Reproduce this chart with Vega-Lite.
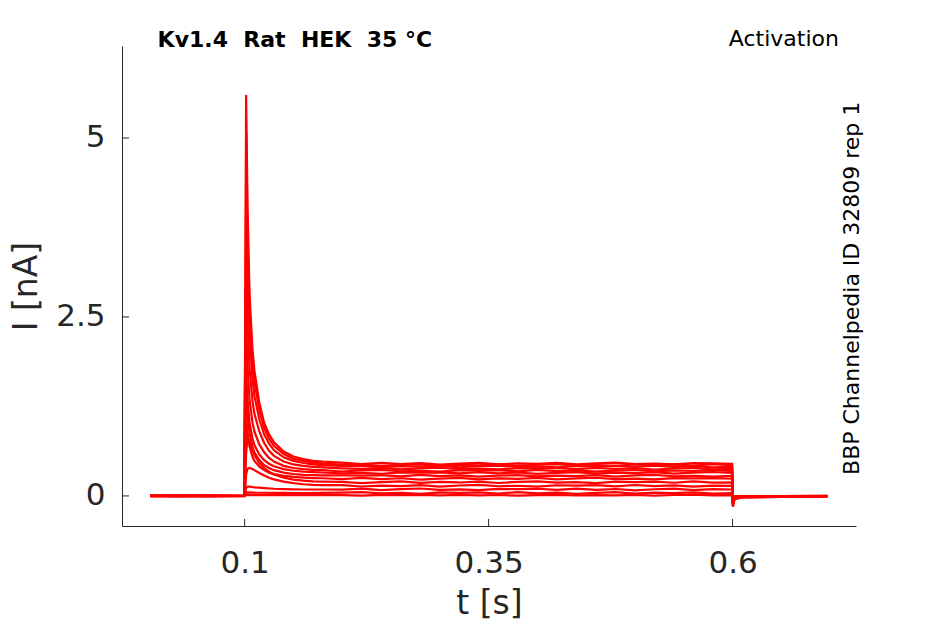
{
  "$schema": "https://vega.github.io/schema/vega-lite/v6.json",
  "width": 734,
  "height": 480,
  "autosize": {"type": "none"},
  "padding": {"left": 122, "top": 46, "right": 89, "bottom": 98},
  "background": "white",
  "config": {"view": {"stroke": null}, "font": "DejaVu Sans"},
  "datasets": {
    "traces": [
      {"s":1,"t":0.003,"i":0.003},{"s":1,"t":0.03,"i":-0.004},{"s":1,"t":0.06,"i":0.002},{"s":1,"t":0.0995,"i":0},
      {"s":1,"t":0.1008,"i":2.8},{"s":1,"t":0.1015,"i":5.6},{"s":1,"t":0.103,"i":4.0},{"s":1,"t":0.105,"i":2.82},{"s":1,"t":0.108,"i":2.05},{"s":1,"t":0.11,"i":1.75},{"s":1,"t":0.115,"i":1.3},{"s":1,"t":0.12,"i":1.02},{"s":1,"t":0.125,"i":0.86},{"s":1,"t":0.13,"i":0.75},{"s":1,"t":0.14,"i":0.62},{"s":1,"t":0.15,"i":0.55},{"s":1,"t":0.16,"i":0.515},{"s":1,"t":0.17,"i":0.49},{"s":1,"t":0.18,"i":0.478},
      {"s":1,"t":0.2,"i":0.466},{"s":1,"t":0.22,"i":0.444},{"s":1,"t":0.24,"i":0.463},{"s":1,"t":0.26,"i":0.446},{"s":1,"t":0.28,"i":0.457},{"s":1,"t":0.3,"i":0.439},{"s":1,"t":0.32,"i":0.453},{"s":1,"t":0.34,"i":0.462},{"s":1,"t":0.36,"i":0.442},{"s":1,"t":0.38,"i":0.455},{"s":1,"t":0.4,"i":0.448},{"s":1,"t":0.42,"i":0.461},{"s":1,"t":0.44,"i":0.441},{"s":1,"t":0.46,"i":0.456},{"s":1,"t":0.48,"i":0.464},{"s":1,"t":0.5,"i":0.445},{"s":1,"t":0.52,"i":0.452},{"s":1,"t":0.54,"i":0.44},{"s":1,"t":0.56,"i":0.459},{"s":1,"t":0.58,"i":0.454},{"s":1,"t":0.5995,"i":0.45},
      {"s":1,"t":0.6003,"i":-0.15},{"s":1,"t":0.602,"i":-0.04},{"s":1,"t":0.61,"i":-0.02},{"s":1,"t":0.65,"i":-0.012},{"s":1,"t":0.697,"i":-0.008},

      {"s":2,"t":0.003,"i":-0.002},{"s":2,"t":0.03,"i":0.004},{"s":2,"t":0.06,"i":-0.003},{"s":2,"t":0.0995,"i":0.001},
      {"s":2,"t":0.1008,"i":2.55},{"s":2,"t":0.1015,"i":5.1},{"s":2,"t":0.103,"i":3.65},{"s":2,"t":0.105,"i":2.6},{"s":2,"t":0.108,"i":1.88},{"s":2,"t":0.11,"i":1.6},{"s":2,"t":0.115,"i":1.2},{"s":2,"t":0.12,"i":0.95},{"s":2,"t":0.125,"i":0.8},{"s":2,"t":0.13,"i":0.7},{"s":2,"t":0.14,"i":0.585},{"s":2,"t":0.15,"i":0.52},{"s":2,"t":0.16,"i":0.49},{"s":2,"t":0.17,"i":0.465},{"s":2,"t":0.18,"i":0.452},
      {"s":2,"t":0.2,"i":0.436},{"s":2,"t":0.22,"i":0.437},{"s":2,"t":0.24,"i":0.419},{"s":2,"t":0.26,"i":0.433},{"s":2,"t":0.28,"i":0.442},{"s":2,"t":0.3,"i":0.422},{"s":2,"t":0.32,"i":0.435},{"s":2,"t":0.34,"i":0.428},{"s":2,"t":0.36,"i":0.441},{"s":2,"t":0.38,"i":0.421},{"s":2,"t":0.4,"i":0.436},{"s":2,"t":0.42,"i":0.444},{"s":2,"t":0.44,"i":0.425},{"s":2,"t":0.46,"i":0.432},{"s":2,"t":0.48,"i":0.42},{"s":2,"t":0.5,"i":0.439},{"s":2,"t":0.52,"i":0.434},{"s":2,"t":0.54,"i":0.44},{"s":2,"t":0.56,"i":0.424},{"s":2,"t":0.58,"i":0.443},{"s":2,"t":0.5995,"i":0.43},
      {"s":2,"t":0.6003,"i":-0.14},{"s":2,"t":0.602,"i":-0.04},{"s":2,"t":0.61,"i":-0.02},{"s":2,"t":0.65,"i":-0.012},{"s":2,"t":0.697,"i":-0.006},

      {"s":3,"t":0.003,"i":0.001},{"s":3,"t":0.03,"i":-0.003},{"s":3,"t":0.06,"i":0.004},{"s":3,"t":0.0995,"i":-0.001},
      {"s":3,"t":0.1008,"i":2.15},{"s":3,"t":0.1015,"i":4.3},{"s":3,"t":0.103,"i":3.1},{"s":3,"t":0.105,"i":2.25},{"s":3,"t":0.108,"i":1.64},{"s":3,"t":0.11,"i":1.4},{"s":3,"t":0.115,"i":1.07},{"s":3,"t":0.12,"i":0.86},{"s":3,"t":0.125,"i":0.73},{"s":3,"t":0.13,"i":0.64},{"s":3,"t":0.14,"i":0.54},{"s":3,"t":0.15,"i":0.49},{"s":3,"t":0.16,"i":0.46},{"s":3,"t":0.17,"i":0.44},{"s":3,"t":0.18,"i":0.43},
      {"s":3,"t":0.2,"i":0.418},{"s":3,"t":0.22,"i":0.422},{"s":3,"t":0.24,"i":0.402},{"s":3,"t":0.26,"i":0.415},{"s":3,"t":0.28,"i":0.408},{"s":3,"t":0.3,"i":0.421},{"s":3,"t":0.32,"i":0.401},{"s":3,"t":0.34,"i":0.416},{"s":3,"t":0.36,"i":0.424},{"s":3,"t":0.38,"i":0.405},{"s":3,"t":0.4,"i":0.412},{"s":3,"t":0.42,"i":0.4},{"s":3,"t":0.44,"i":0.419},{"s":3,"t":0.46,"i":0.414},{"s":3,"t":0.48,"i":0.42},{"s":3,"t":0.5,"i":0.404},{"s":3,"t":0.52,"i":0.423},{"s":3,"t":0.54,"i":0.406},{"s":3,"t":0.56,"i":0.417},{"s":3,"t":0.58,"i":0.399},{"s":3,"t":0.5995,"i":0.41},
      {"s":3,"t":0.6003,"i":-0.13},{"s":3,"t":0.602,"i":-0.035},{"s":3,"t":0.61,"i":-0.018},{"s":3,"t":0.65,"i":-0.01},{"s":3,"t":0.697,"i":-0.006},

      {"s":4,"t":0.003,"i":-0.003},{"s":4,"t":0.03,"i":0.002},{"s":4,"t":0.06,"i":-0.002},{"s":4,"t":0.0995,"i":0.002},
      {"s":4,"t":0.1008,"i":1.65},{"s":4,"t":0.1015,"i":3.3},{"s":4,"t":0.103,"i":2.42},{"s":4,"t":0.105,"i":1.78},{"s":4,"t":0.108,"i":1.33},{"s":4,"t":0.11,"i":1.15},{"s":4,"t":0.115,"i":0.9},{"s":4,"t":0.12,"i":0.74},{"s":4,"t":0.125,"i":0.63},{"s":4,"t":0.13,"i":0.56},{"s":4,"t":0.14,"i":0.48},{"s":4,"t":0.15,"i":0.44},{"s":4,"t":0.16,"i":0.42},{"s":4,"t":0.17,"i":0.405},{"s":4,"t":0.18,"i":0.398},
      {"s":4,"t":0.2,"i":0.385},{"s":4,"t":0.22,"i":0.378},{"s":4,"t":0.24,"i":0.391},{"s":4,"t":0.26,"i":0.371},{"s":4,"t":0.28,"i":0.386},{"s":4,"t":0.3,"i":0.394},{"s":4,"t":0.32,"i":0.375},{"s":4,"t":0.34,"i":0.382},{"s":4,"t":0.36,"i":0.37},{"s":4,"t":0.38,"i":0.389},{"s":4,"t":0.4,"i":0.384},{"s":4,"t":0.42,"i":0.39},{"s":4,"t":0.44,"i":0.374},{"s":4,"t":0.46,"i":0.393},{"s":4,"t":0.48,"i":0.376},{"s":4,"t":0.5,"i":0.387},{"s":4,"t":0.52,"i":0.369},{"s":4,"t":0.54,"i":0.383},{"s":4,"t":0.56,"i":0.392},{"s":4,"t":0.58,"i":0.372},{"s":4,"t":0.5995,"i":0.38},
      {"s":4,"t":0.6003,"i":-0.12},{"s":4,"t":0.602,"i":-0.03},{"s":4,"t":0.61,"i":-0.015},{"s":4,"t":0.65,"i":-0.01},{"s":4,"t":0.697,"i":-0.005},

      {"s":5,"t":0.003,"i":0.002},{"s":5,"t":0.03,"i":0.003},{"s":5,"t":0.06,"i":-0.004},{"s":5,"t":0.0995,"i":0},
      {"s":5,"t":0.1008,"i":1.2},{"s":5,"t":0.1015,"i":2.4},{"s":5,"t":0.103,"i":1.8},{"s":5,"t":0.105,"i":1.35},{"s":5,"t":0.108,"i":1.03},{"s":5,"t":0.11,"i":0.9},{"s":5,"t":0.115,"i":0.72},{"s":5,"t":0.12,"i":0.61},{"s":5,"t":0.125,"i":0.53},{"s":5,"t":0.13,"i":0.48},{"s":5,"t":0.14,"i":0.42},{"s":5,"t":0.15,"i":0.39},{"s":5,"t":0.16,"i":0.375},{"s":5,"t":0.17,"i":0.365},{"s":5,"t":0.18,"i":0.36},
      {"s":5,"t":0.2,"i":0.341},{"s":5,"t":0.22,"i":0.356},{"s":5,"t":0.24,"i":0.364},{"s":5,"t":0.26,"i":0.345},{"s":5,"t":0.28,"i":0.352},{"s":5,"t":0.3,"i":0.34},{"s":5,"t":0.32,"i":0.359},{"s":5,"t":0.34,"i":0.354},{"s":5,"t":0.36,"i":0.36},{"s":5,"t":0.38,"i":0.344},{"s":5,"t":0.4,"i":0.363},{"s":5,"t":0.42,"i":0.346},{"s":5,"t":0.44,"i":0.357},{"s":5,"t":0.46,"i":0.339},{"s":5,"t":0.48,"i":0.353},{"s":5,"t":0.5,"i":0.362},{"s":5,"t":0.52,"i":0.342},{"s":5,"t":0.54,"i":0.355},{"s":5,"t":0.56,"i":0.348},{"s":5,"t":0.58,"i":0.361},{"s":5,"t":0.5995,"i":0.35},
      {"s":5,"t":0.6003,"i":-0.1},{"s":5,"t":0.602,"i":-0.03},{"s":5,"t":0.61,"i":-0.015},{"s":5,"t":0.65,"i":-0.01},{"s":5,"t":0.697,"i":-0.004},

      {"s":6,"t":0.003,"i":-0.001},{"s":6,"t":0.03,"i":0.002},{"s":6,"t":0.06,"i":0.003},{"s":6,"t":0.0995,"i":-0.002},
      {"s":6,"t":0.1008,"i":0.9},{"s":6,"t":0.1015,"i":1.76},{"s":6,"t":0.103,"i":1.34},{"s":6,"t":0.105,"i":1.03},{"s":6,"t":0.108,"i":0.8},{"s":6,"t":0.11,"i":0.71},{"s":6,"t":0.115,"i":0.58},{"s":6,"t":0.12,"i":0.5},{"s":6,"t":0.125,"i":0.45},{"s":6,"t":0.13,"i":0.415},{"s":6,"t":0.14,"i":0.375},{"s":6,"t":0.15,"i":0.352},{"s":6,"t":0.16,"i":0.34},{"s":6,"t":0.17,"i":0.332},{"s":6,"t":0.18,"i":0.327},
      {"s":6,"t":0.2,"i":0.315},{"s":6,"t":0.22,"i":0.322},{"s":6,"t":0.24,"i":0.31},{"s":6,"t":0.26,"i":0.329},{"s":6,"t":0.28,"i":0.324},{"s":6,"t":0.3,"i":0.33},{"s":6,"t":0.32,"i":0.314},{"s":6,"t":0.34,"i":0.333},{"s":6,"t":0.36,"i":0.316},{"s":6,"t":0.38,"i":0.327},{"s":6,"t":0.4,"i":0.309},{"s":6,"t":0.42,"i":0.323},{"s":6,"t":0.44,"i":0.332},{"s":6,"t":0.46,"i":0.312},{"s":6,"t":0.48,"i":0.325},{"s":6,"t":0.5,"i":0.318},{"s":6,"t":0.52,"i":0.331},{"s":6,"t":0.54,"i":0.311},{"s":6,"t":0.56,"i":0.326},{"s":6,"t":0.58,"i":0.334},{"s":6,"t":0.5995,"i":0.32},
      {"s":6,"t":0.6003,"i":-0.09},{"s":6,"t":0.602,"i":-0.025},{"s":6,"t":0.61,"i":-0.012},{"s":6,"t":0.65,"i":-0.008},{"s":6,"t":0.697,"i":-0.004},

      {"s":7,"t":0.003,"i":0.004},{"s":7,"t":0.03,"i":-0.002},{"s":7,"t":0.06,"i":0.001},{"s":7,"t":0.0995,"i":0.001},
      {"s":7,"t":0.1008,"i":0.75},{"s":7,"t":0.1015,"i":1.48},{"s":7,"t":0.103,"i":1.14},{"s":7,"t":0.105,"i":0.88},{"s":7,"t":0.108,"i":0.69},{"s":7,"t":0.11,"i":0.61},{"s":7,"t":0.115,"i":0.5},{"s":7,"t":0.12,"i":0.43},{"s":7,"t":0.125,"i":0.39},{"s":7,"t":0.13,"i":0.36},{"s":7,"t":0.14,"i":0.325},{"s":7,"t":0.15,"i":0.306},{"s":7,"t":0.16,"i":0.295},{"s":7,"t":0.17,"i":0.29},{"s":7,"t":0.18,"i":0.286},
      {"s":7,"t":0.2,"i":0.289},{"s":7,"t":0.22,"i":0.284},{"s":7,"t":0.24,"i":0.29},{"s":7,"t":0.26,"i":0.274},{"s":7,"t":0.28,"i":0.293},{"s":7,"t":0.3,"i":0.276},{"s":7,"t":0.32,"i":0.287},{"s":7,"t":0.34,"i":0.269},{"s":7,"t":0.36,"i":0.283},{"s":7,"t":0.38,"i":0.292},{"s":7,"t":0.4,"i":0.272},{"s":7,"t":0.42,"i":0.285},{"s":7,"t":0.44,"i":0.278},{"s":7,"t":0.46,"i":0.291},{"s":7,"t":0.48,"i":0.271},{"s":7,"t":0.5,"i":0.286},{"s":7,"t":0.52,"i":0.294},{"s":7,"t":0.54,"i":0.275},{"s":7,"t":0.56,"i":0.282},{"s":7,"t":0.58,"i":0.27},{"s":7,"t":0.5995,"i":0.28},
      {"s":7,"t":0.6003,"i":-0.08},{"s":7,"t":0.602,"i":-0.025},{"s":7,"t":0.61,"i":-0.012},{"s":7,"t":0.65,"i":-0.008},{"s":7,"t":0.697,"i":-0.003},

      {"s":8,"t":0.003,"i":-0.002},{"s":8,"t":0.03,"i":0.001},{"s":8,"t":0.06,"i":-0.003},{"s":8,"t":0.0995,"i":0.002},
      {"s":8,"t":0.1008,"i":0.57},{"s":8,"t":0.1015,"i":1.13},{"s":8,"t":0.103,"i":0.88},{"s":8,"t":0.105,"i":0.69},{"s":8,"t":0.108,"i":0.55},{"s":8,"t":0.11,"i":0.49},{"s":8,"t":0.115,"i":0.41},{"s":8,"t":0.12,"i":0.36},{"s":8,"t":0.125,"i":0.325},{"s":8,"t":0.13,"i":0.305},{"s":8,"t":0.14,"i":0.28},{"s":8,"t":0.15,"i":0.265},{"s":8,"t":0.16,"i":0.256},{"s":8,"t":0.17,"i":0.25},{"s":8,"t":0.18,"i":0.247},
      {"s":8,"t":0.2,"i":0.234},{"s":8,"t":0.22,"i":0.253},{"s":8,"t":0.24,"i":0.236},{"s":8,"t":0.26,"i":0.247},{"s":8,"t":0.28,"i":0.229},{"s":8,"t":0.3,"i":0.243},{"s":8,"t":0.32,"i":0.252},{"s":8,"t":0.34,"i":0.232},{"s":8,"t":0.36,"i":0.245},{"s":8,"t":0.38,"i":0.238},{"s":8,"t":0.4,"i":0.251},{"s":8,"t":0.42,"i":0.231},{"s":8,"t":0.44,"i":0.246},{"s":8,"t":0.46,"i":0.254},{"s":8,"t":0.48,"i":0.235},{"s":8,"t":0.5,"i":0.242},{"s":8,"t":0.52,"i":0.23},{"s":8,"t":0.54,"i":0.249},{"s":8,"t":0.56,"i":0.244},{"s":8,"t":0.58,"i":0.25},{"s":8,"t":0.5995,"i":0.24},
      {"s":8,"t":0.6003,"i":-0.07},{"s":8,"t":0.602,"i":-0.02},{"s":8,"t":0.61,"i":-0.01},{"s":8,"t":0.65,"i":-0.006},{"s":8,"t":0.697,"i":-0.003},

      {"s":9,"t":0.003,"i":0.001},{"s":9,"t":0.03,"i":0.003},{"s":9,"t":0.06,"i":-0.001},{"s":9,"t":0.0995,"i":-0.002},
      {"s":9,"t":0.1008,"i":0.3},{"s":9,"t":0.1015,"i":0.6},{"s":9,"t":0.103,"i":0.82},{"s":9,"t":0.105,"i":0.76},{"s":9,"t":0.108,"i":0.64},{"s":9,"t":0.11,"i":0.57},{"s":9,"t":0.115,"i":0.46},{"s":9,"t":0.12,"i":0.39},{"s":9,"t":0.125,"i":0.34},{"s":9,"t":0.13,"i":0.3},{"s":9,"t":0.14,"i":0.255},{"s":9,"t":0.15,"i":0.228},{"s":9,"t":0.16,"i":0.213},{"s":9,"t":0.17,"i":0.204},{"s":9,"t":0.18,"i":0.2},
      {"s":9,"t":0.2,"i":0.197},{"s":9,"t":0.22,"i":0.179},{"s":9,"t":0.24,"i":0.193},{"s":9,"t":0.26,"i":0.202},{"s":9,"t":0.28,"i":0.182},{"s":9,"t":0.3,"i":0.195},{"s":9,"t":0.32,"i":0.188},{"s":9,"t":0.34,"i":0.201},{"s":9,"t":0.36,"i":0.181},{"s":9,"t":0.38,"i":0.196},{"s":9,"t":0.4,"i":0.204},{"s":9,"t":0.42,"i":0.185},{"s":9,"t":0.44,"i":0.192},{"s":9,"t":0.46,"i":0.18},{"s":9,"t":0.48,"i":0.199},{"s":9,"t":0.5,"i":0.194},{"s":9,"t":0.52,"i":0.2},{"s":9,"t":0.54,"i":0.184},{"s":9,"t":0.56,"i":0.203},{"s":9,"t":0.58,"i":0.186},{"s":9,"t":0.5995,"i":0.19},
      {"s":9,"t":0.6003,"i":-0.05},{"s":9,"t":0.602,"i":-0.015},{"s":9,"t":0.61,"i":-0.008},{"s":9,"t":0.65,"i":-0.005},{"s":9,"t":0.697,"i":-0.002},

      {"s":10,"t":0.003,"i":-0.003},{"s":10,"t":0.03,"i":0.002},{"s":10,"t":0.06,"i":0.004},{"s":10,"t":0.0995,"i":0},
      {"s":10,"t":0.1008,"i":0.15},{"s":10,"t":0.1015,"i":0.3},{"s":10,"t":0.103,"i":0.38},{"s":10,"t":0.105,"i":0.39},{"s":10,"t":0.108,"i":0.375},{"s":10,"t":0.11,"i":0.36},{"s":10,"t":0.115,"i":0.32},{"s":10,"t":0.12,"i":0.285},{"s":10,"t":0.125,"i":0.255},{"s":10,"t":0.13,"i":0.232},{"s":10,"t":0.14,"i":0.2},{"s":10,"t":0.15,"i":0.178},{"s":10,"t":0.16,"i":0.163},{"s":10,"t":0.17,"i":0.154},{"s":10,"t":0.18,"i":0.15},
      {"s":10,"t":0.2,"i":0.152},{"s":10,"t":0.22,"i":0.132},{"s":10,"t":0.24,"i":0.145},{"s":10,"t":0.26,"i":0.138},{"s":10,"t":0.28,"i":0.151},{"s":10,"t":0.3,"i":0.131},{"s":10,"t":0.32,"i":0.146},{"s":10,"t":0.34,"i":0.154},{"s":10,"t":0.36,"i":0.135},{"s":10,"t":0.38,"i":0.142},{"s":10,"t":0.4,"i":0.13},{"s":10,"t":0.42,"i":0.149},{"s":10,"t":0.44,"i":0.144},{"s":10,"t":0.46,"i":0.15},{"s":10,"t":0.48,"i":0.134},{"s":10,"t":0.5,"i":0.153},{"s":10,"t":0.52,"i":0.136},{"s":10,"t":0.54,"i":0.147},{"s":10,"t":0.56,"i":0.129},{"s":10,"t":0.58,"i":0.143},{"s":10,"t":0.5995,"i":0.14},
      {"s":10,"t":0.6003,"i":-0.04},{"s":10,"t":0.602,"i":-0.012},{"s":10,"t":0.61,"i":-0.006},{"s":10,"t":0.65,"i":-0.004},{"s":10,"t":0.697,"i":-0.002},

      {"s":11,"t":0.003,"i":0.002},{"s":11,"t":0.03,"i":-0.003},{"s":11,"t":0.06,"i":0.001},{"s":11,"t":0.0995,"i":0.001},
      {"s":11,"t":0.1008,"i":0.06},{"s":11,"t":0.1015,"i":0.11},{"s":11,"t":0.103,"i":0.13},{"s":11,"t":0.105,"i":0.13},{"s":11,"t":0.108,"i":0.125},{"s":11,"t":0.11,"i":0.12},{"s":11,"t":0.115,"i":0.115},{"s":11,"t":0.12,"i":0.11},{"s":11,"t":0.13,"i":0.1},{"s":11,"t":0.14,"i":0.095},{"s":11,"t":0.16,"i":0.09},{"s":11,"t":0.18,"i":0.09},
      {"s":11,"t":0.2,"i":0.088},{"s":11,"t":0.22,"i":0.101},{"s":11,"t":0.24,"i":0.081},{"s":11,"t":0.26,"i":0.096},{"s":11,"t":0.28,"i":0.104},{"s":11,"t":0.3,"i":0.085},{"s":11,"t":0.32,"i":0.092},{"s":11,"t":0.34,"i":0.08},{"s":11,"t":0.36,"i":0.099},{"s":11,"t":0.38,"i":0.094},{"s":11,"t":0.4,"i":0.1},{"s":11,"t":0.42,"i":0.084},{"s":11,"t":0.44,"i":0.103},{"s":11,"t":0.46,"i":0.086},{"s":11,"t":0.48,"i":0.097},{"s":11,"t":0.5,"i":0.079},{"s":11,"t":0.52,"i":0.093},{"s":11,"t":0.54,"i":0.102},{"s":11,"t":0.56,"i":0.082},{"s":11,"t":0.58,"i":0.095},{"s":11,"t":0.5995,"i":0.09},
      {"s":11,"t":0.6003,"i":-0.03},{"s":11,"t":0.602,"i":-0.01},{"s":11,"t":0.61,"i":-0.005},{"s":11,"t":0.65,"i":-0.003},{"s":11,"t":0.697,"i":-0.001},

      {"s":12,"t":0.003,"i":-0.001},{"s":12,"t":0.03,"i":0.002},{"s":12,"t":0.06,"i":-0.002},{"s":12,"t":0.0995,"i":0.001},
      {"s":12,"t":0.1015,"i":0.05},{"s":12,"t":0.11,"i":0.045},{"s":12,"t":0.16,"i":0.04},
      {"s":12,"t":0.2,"i":0.046},{"s":12,"t":0.22,"i":0.054},{"s":12,"t":0.24,"i":0.035},{"s":12,"t":0.26,"i":0.042},{"s":12,"t":0.28,"i":0.03},{"s":12,"t":0.3,"i":0.049},{"s":12,"t":0.32,"i":0.044},{"s":12,"t":0.34,"i":0.05},{"s":12,"t":0.36,"i":0.034},{"s":12,"t":0.38,"i":0.053},{"s":12,"t":0.4,"i":0.036},{"s":12,"t":0.42,"i":0.047},{"s":12,"t":0.44,"i":0.029},{"s":12,"t":0.46,"i":0.043},{"s":12,"t":0.48,"i":0.052},{"s":12,"t":0.5,"i":0.032},{"s":12,"t":0.52,"i":0.045},{"s":12,"t":0.54,"i":0.038},{"s":12,"t":0.56,"i":0.051},{"s":12,"t":0.58,"i":0.031},{"s":12,"t":0.5995,"i":0.04},
      {"s":12,"t":0.6003,"i":-0.02},{"s":12,"t":0.602,"i":-0.006},{"s":12,"t":0.61,"i":-0.004},{"s":12,"t":0.65,"i":-0.002},{"s":12,"t":0.697,"i":0},

      {"s":13,"t":0.003,"i":0.001},{"s":13,"t":0.03,"i":-0.002},{"s":13,"t":0.06,"i":0.002},{"s":13,"t":0.0995,"i":-0.001},
      {"s":13,"t":0.1015,"i":0.015},{"s":13,"t":0.11,"i":0.012},
      {"s":13,"t":0.2,"i":0.011},{"s":13,"t":0.22,"i":0.005},{"s":13,"t":0.24,"i":0.015},{"s":13,"t":0.26,"i":0.012},{"s":13,"t":0.28,"i":0.015},{"s":13,"t":0.3,"i":0.007},{"s":13,"t":0.32,"i":0.016},{"s":13,"t":0.34,"i":0.008},{"s":13,"t":0.36,"i":0.013},{"s":13,"t":0.38,"i":0.004},{"s":13,"t":0.4,"i":0.011},{"s":13,"t":0.42,"i":0.016},{"s":13,"t":0.44,"i":0.006},{"s":13,"t":0.46,"i":0.012},{"s":13,"t":0.48,"i":0.009},{"s":13,"t":0.5,"i":0.015},{"s":13,"t":0.52,"i":0.005},{"s":13,"t":0.54,"i":0.013},{"s":13,"t":0.56,"i":0.017},{"s":13,"t":0.58,"i":0.007},{"s":13,"t":0.5995,"i":0.01},
      {"s":13,"t":0.6003,"i":-0.01},{"s":13,"t":0.602,"i":-0.004},{"s":13,"t":0.61,"i":-0.002},{"s":13,"t":0.65,"i":-0.001},{"s":13,"t":0.697,"i":0}
    ]
  },
  "layer": [
    {
      "data": {"name": "traces"},
      "mark": {"type": "line", "color": "#ff0000", "strokeWidth": 2.2, "clip": true},
      "encoding": {
        "x": {
          "field": "t",
          "type": "quantitative",
          "scale": {"domain": [-0.0257, 0.7265], "nice": false, "zero": false},
          "axis": {
            "values": [0.1, 0.35, 0.6],
            "format": "~g",
            "title": "t [s]",
            "grid": false,
            "ticks": false,
            "labelFontSize": 31,
            "titleFontSize": 33,
            "titleFontWeight": "normal",
            "labelColor": "#262626",
            "titleColor": "#262626",
            "domainColor": "#262626",
            "labelPadding": 22,
            "titlePadding": 9,
            "labelFlush": false,
            "labelOverlap": false
          }
        },
        "y": {
          "field": "i",
          "type": "quantitative",
          "scale": {"domain": [-0.42, 6.285], "nice": false, "zero": false},
          "axis": {
            "values": [0, 2.5, 5],
            "format": "~g",
            "title": "I [nA]",
            "grid": false,
            "ticks": false,
            "labelFontSize": 31,
            "titleFontSize": 33,
            "titleFontWeight": "normal",
            "labelColor": "#262626",
            "titleColor": "#262626",
            "domainColor": "#262626",
            "labelPadding": 17,
            "titlePadding": 12,
            "labelFlush": false,
            "labelOverlap": false
          }
        },
        "detail": {"field": "s", "type": "nominal"}
      }
    },
    {
      "data": {"values": [{"v": 0.1}, {"v": 0.35}, {"v": 0.6}]},
      "mark": {"type": "rule", "color": "#262626", "strokeWidth": 1},
      "encoding": {
        "x": {"field": "v", "type": "quantitative"},
        "y": {"datum": -0.42, "type": "quantitative"},
        "y2": {"datum": -0.322}
      }
    },
    {
      "data": {"values": [{"v": 0}, {"v": 2.5}, {"v": 5}]},
      "mark": {"type": "rule", "color": "#262626", "strokeWidth": 1},
      "encoding": {
        "y": {"field": "v", "type": "quantitative"},
        "x": {"datum": -0.0257, "type": "quantitative"},
        "x2": {"datum": -0.0185}
      }
    },
    {
      "data": {"values": [{"label": "Kv1.4\u00a0 Rat\u00a0 HEK\u00a0 35 °C"}]},
      "mark": {"type": "text", "align": "left", "baseline": "alphabetic", "fontSize": 22, "fontWeight": "bold", "color": "#000000"},
      "encoding": {
        "x": {"datum": 0.0108, "type": "quantitative"},
        "y": {"datum": 6.271, "type": "quantitative"},
        "text": {"field": "label"}
      }
    },
    {
      "data": {"values": [{"label": "Activation"}]},
      "mark": {"type": "text", "align": "center", "baseline": "alphabetic", "fontSize": 22, "color": "#000000"},
      "encoding": {
        "x": {"datum": 0.6526, "type": "quantitative"},
        "y": {"datum": 6.285, "type": "quantitative"},
        "text": {"field": "label"}
      }
    },
    {
      "data": {"values": [{"label": "BBP Channelpedia ID 32809 rep 1"}]},
      "mark": {"type": "text", "align": "center", "baseline": "alphabetic", "angle": 270, "fontSize": 22, "color": "#000000"},
      "encoding": {
        "x": {"datum": 0.7296, "type": "quantitative"},
        "y": {"datum": 2.9, "type": "quantitative"},
        "text": {"field": "label"}
      }
    }
  ]
}
